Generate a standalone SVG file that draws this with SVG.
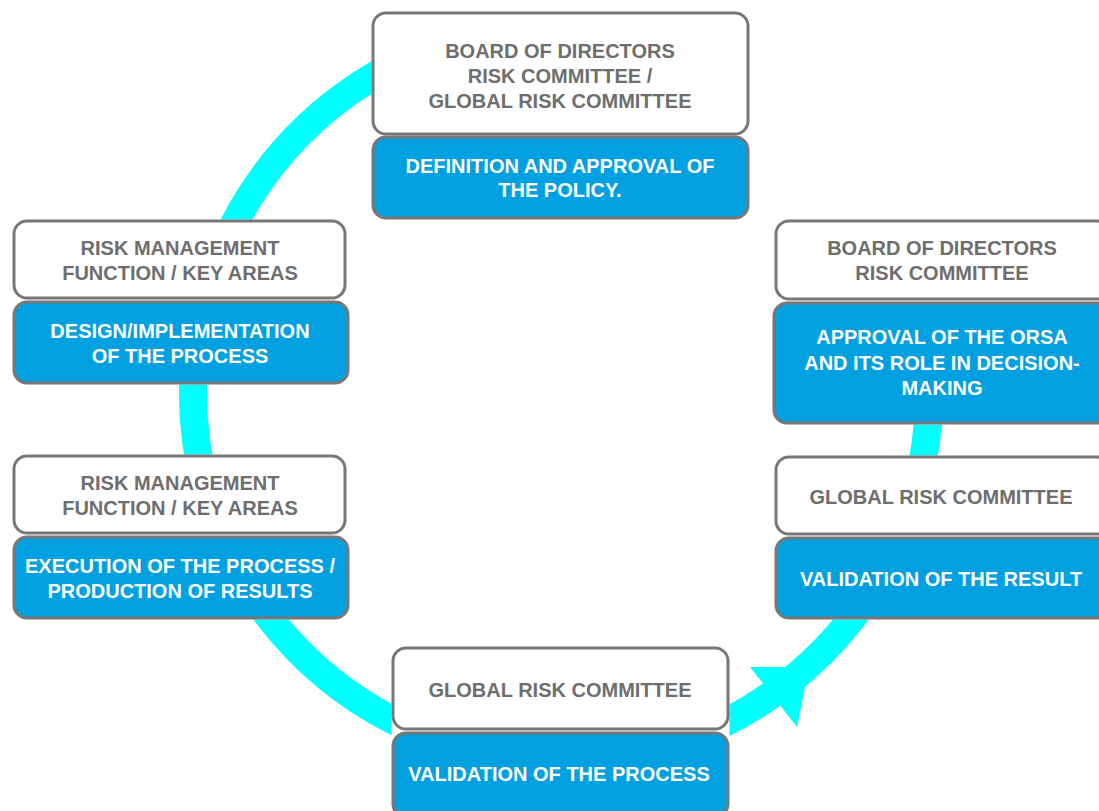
<svg xmlns="http://www.w3.org/2000/svg" width="1099" height="811" viewBox="0 0 1099 811">
<style>
.bg{fill:#ffffff;stroke:#ffffff;stroke-width:3}
.lbl{fill:#ffffff;stroke:#777777;stroke-width:3}
.act{fill:#00A0E1;stroke:#777777;stroke-width:3}
.t{font-family:"Liberation Sans",Arial,sans-serif;font-weight:bold;font-size:20px;text-anchor:middle}
.g{fill:#6E6E6E}
.w{fill:#ffffff}
</style>
<rect width="1099" height="811" fill="#ffffff"/>
<g id="connectors">
<path d="M497,30.6 A368,368 0 1 0 894.5,237.5" fill="none" stroke="#00FFFF" stroke-width="28"/>
<polygon points="809,667 750,667 797,727" fill="#00FFFF"/>
</g>
<g id="node-top">
<rect class="bg" x="373" y="13" width="375" height="205" rx="13"/>
<rect class="lbl" x="373" y="13" width="375" height="121" rx="13"/>
<rect class="act" x="373" y="137" width="375" height="81" rx="13"/>
<text class="t g" x="560" y="58">BOARD OF DIRECTORS</text>
<text class="t g" x="560" y="83">RISK COMMITTEE /</text>
<text class="t g" x="560" y="108">GLOBAL RISK COMMITTEE</text>
<text class="t w" x="560" y="173">DEFINITION AND APPROVAL OF</text>
<text class="t w" x="560" y="197">THE POLICY.</text>
</g>
<g id="node-left-top">
<rect class="bg" x="14" y="221" width="334" height="162" rx="13"/>
<rect class="lbl" x="14" y="221" width="331" height="77" rx="13"/>
<rect class="act" x="14" y="302" width="334" height="81" rx="13"/>
<text class="t g" x="180" y="255">RISK MANAGEMENT</text>
<text class="t g" x="180" y="280">FUNCTION / KEY AREAS</text>
<text class="t w" x="180" y="338">DESIGN/IMPLEMENTATION</text>
<text class="t w" x="180" y="363">OF THE PROCESS</text>
</g>
<g id="node-left-bottom">
<rect class="bg" x="14" y="456" width="334" height="162" rx="13"/>
<rect class="lbl" x="14" y="456" width="331" height="77" rx="13"/>
<rect class="act" x="14" y="537" width="334" height="81" rx="13"/>
<text class="t g" x="180" y="490">RISK MANAGEMENT</text>
<text class="t g" x="180" y="515">FUNCTION / KEY AREAS</text>
<text class="t w" x="180" y="573">EXECUTION OF THE PROCESS /</text>
<text class="t w" x="180" y="598">PRODUCTION OF RESULTS</text>
</g>
<g id="node-bottom">
<rect class="bg" x="393" y="648" width="335" height="169" rx="13"/>
<rect class="lbl" x="393" y="648" width="335" height="81" rx="13"/>
<rect class="act" x="393" y="733" width="335" height="84" rx="13"/>
<text class="t g" x="560" y="697">GLOBAL RISK COMMITTEE</text>
<text class="t w" x="559" y="781">VALIDATION OF THE PROCESS</text>
</g>
<g id="node-right-top">
<rect class="bg" x="774" y="221" width="336" height="202" rx="13"/>
<rect class="lbl" x="776" y="221" width="334" height="78" rx="13"/>
<rect class="act" x="774" y="303" width="336" height="120" rx="13"/>
<text class="t g" x="942" y="255">BOARD OF DIRECTORS</text>
<text class="t g" x="942" y="280">RISK COMMITTEE</text>
<text class="t w" x="942" y="344">APPROVAL OF THE ORSA</text>
<text class="t w" x="942" y="370">AND ITS ROLE IN DECISION-</text>
<text class="t w" x="942" y="395">MAKING</text>
</g>
<g id="node-right-bottom">
<rect class="bg" x="776" y="457" width="334" height="161" rx="13"/>
<rect class="lbl" x="776" y="457" width="334" height="77" rx="13"/>
<rect class="act" x="776" y="538" width="334" height="80" rx="13"/>
<text class="t g" x="941" y="504">GLOBAL RISK COMMITTEE</text>
<text class="t w" x="941" y="586">VALIDATION OF THE RESULT</text>
</g>
</svg>
